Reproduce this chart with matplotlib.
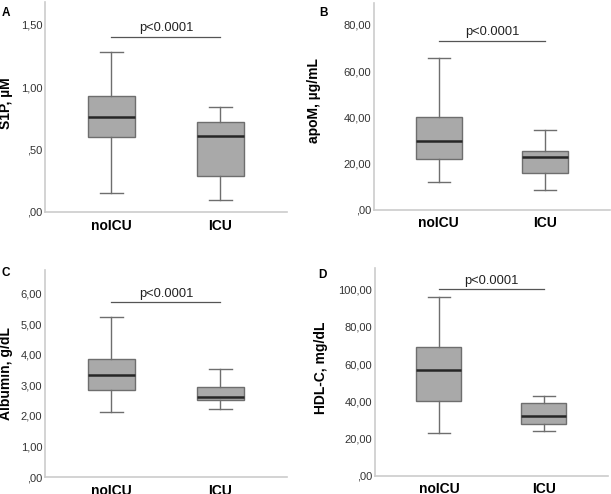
import matplotlib
matplotlib.use("Agg")
import matplotlib.pyplot as plt

plt.rcParams['font.family'] = ['Liberation Sans', 'DejaVu Sans']

groups = ["noICU", "ICU"]

# box stats per panel: (whisker low, Q1, median, Q3, whisker high)
s1p_noicu = [0.152, 0.603, 0.763, 0.931, 1.28]
s1p_icu = [0.096, 0.291, 0.611, 0.72, 0.838]
apom_noicu = [11.9, 21.9, 29.8, 40.1, 65.6]
apom_icu = [8.3, 15.8, 22.6, 25.4, 34.5]
alb_noicu = [2.13, 2.85, 3.35, 3.88, 5.24]
alb_icu = [2.24, 2.53, 2.63, 2.94, 3.54]
hdl_noicu = [23.0, 40.2, 57.1, 69.0, 96.2]
hdl_icu = [24.0, 28.0, 32.1, 39.0, 42.9]

ylabels = ["S1P, µM", "apoM, µg/mL", "Albumin, g/dL", "HDL-C, mg/dL"]
letters = ["A", "B", "C", "D"]
yticks = [[0, 0.5, 1.0, 1.5], [0, 20, 40, 60, 80],
          [0, 1, 2, 3, 4, 5, 6], [0, 20, 40, 60, 80, 100]]
ytick_labels = [[",00", ",50", "1,00", "1,50"],
                [",00", "20,00", "40,00", "60,00", "80,00"],
                [",00", "1,00", "2,00", "3,00", "4,00", "5,00", "6,00"],
                [",00", "20,00", "40,00", "60,00", "80,00", "100,00"]]
ylims = [1.68, 89.5, 6.78, 111.9]
bar_y = [1.402, 73.2, 5.72, 100.2]
pvalue = "p<0.0001"

data = [(s1p_noicu, s1p_icu), (apom_noicu, apom_icu),
        (alb_noicu, alb_icu), (hdl_noicu, hdl_icu)]

# axes rectangles in figure fractions
rects = [[0.0736, 0.5709, 0.396, 0.425],
         [0.612, 0.5759, 0.386, 0.418],
         [0.0736, 0.0344, 0.396, 0.419],
         [0.6137, 0.0374, 0.381, 0.4206]]
label_x = [-0.132, -0.225, -0.131, -0.200]
label_y = [0.52, 0.526, 0.5, 0.518]
letter_pos = [(0.003, 0.985), (0.523, 0.985), (0.003, 0.46), (0.521, 0.455)]

fig = plt.figure(figsize=(6.11, 4.94), dpi=100)

for i in range(4):
    ax = fig.add_axes(rects[i])
    stats = []
    for g, vals in zip(groups, data[i]):
        stats.append({"label": g, "whislo": vals[0], "q1": vals[1],
                      "med": vals[2], "q3": vals[3], "whishi": vals[4],
                      "fliers": []})
    ax.bxp(stats, positions=[1, 2], widths=0.43, patch_artist=True,
           showfliers=False,
           boxprops=dict(facecolor="#a9a9a9", edgecolor="#6e6e6e", linewidth=1.0),
           medianprops=dict(color="#262626", linewidth=1.8),
           whiskerprops=dict(color="#6e6e6e", linewidth=1.0),
           capprops=dict(color="#6e6e6e", linewidth=1.0),
           capwidths=0.21)
    ax.set_xlim(0.39, 2.61)
    ax.set_ylim(0, ylims[i])
    ax.set_yticks(yticks[i])
    ax.set_yticklabels(ytick_labels[i], fontsize=8, color="#333333")
    ax.set_xticks([1, 2])
    ax.set_xticklabels(groups, fontsize=10, fontweight="bold")
    ax.tick_params(axis="both", length=0)
    ax.tick_params(axis="y", pad=2)
    ax.tick_params(axis="x", pad=5)
    for side in ["top", "right"]:
        ax.spines[side].set_visible(False)
    for side in ["left", "bottom"]:
        ax.spines[side].set_color("#cccccc")
        ax.spines[side].set_linewidth(1.2)
    ax.set_ylabel(ylabels[i], fontsize=10, fontweight="bold")
    ax.yaxis.set_label_coords(label_x[i], label_y[i])
    # significance bar
    ax.plot([1, 2], [bar_y[i], bar_y[i]], color="#555555", linewidth=0.9,
            clip_on=False)
    ax.text(1.5, bar_y[i] + ylims[i] * 0.012, pvalue, ha="center",
            va="bottom", fontsize=9.3, color="#222222")
    fig.text(letter_pos[i][0], letter_pos[i][1], letters[i], fontsize=8.5,
             fontweight="bold", va="top", ha="left")

fig.savefig("out.png", dpi=100)
